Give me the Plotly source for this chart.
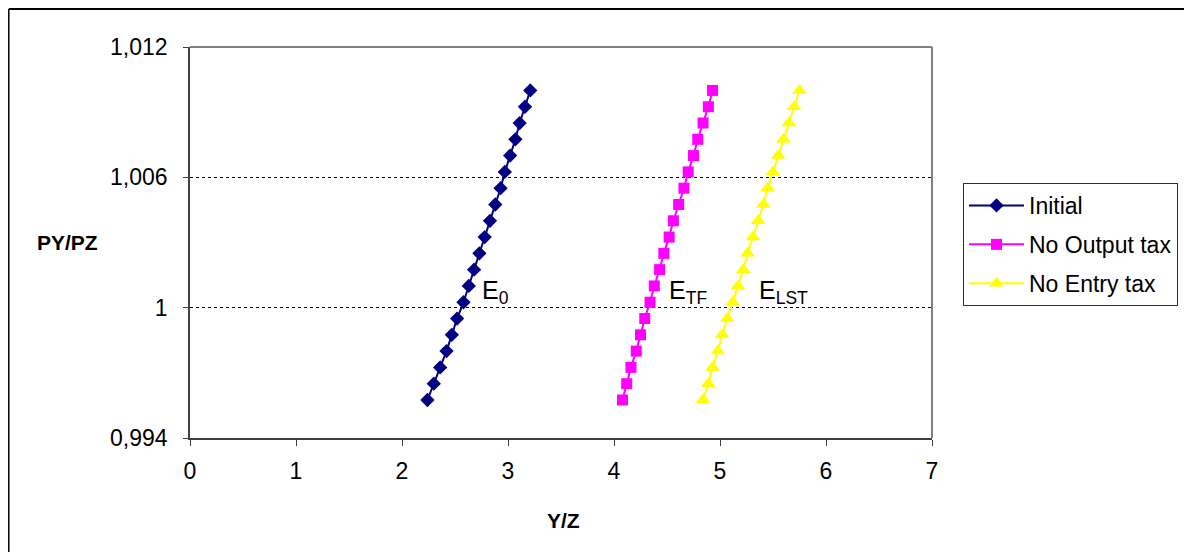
import plotly.graph_objects as go

# ---- data ----
py_pz = [0.99575, 0.9965, 0.99725, 0.998, 0.99875, 0.9995, 1.00025, 1.001, 1.00175, 1.0025,
         1.00325, 1.004, 1.00475, 1.0055, 1.00625, 1.007, 1.00775, 1.0085, 1.00925, 1.01]
initial_yz = [2.24, 2.30, 2.36, 2.42, 2.47, 2.52, 2.58, 2.63, 2.68, 2.73,
              2.78, 2.83, 2.88, 2.93, 2.97, 3.02, 3.07, 3.11, 3.16, 3.21]
no_output_tax_yz = [4.08, 4.12, 4.16, 4.21, 4.25, 4.29, 4.34, 4.38, 4.43, 4.47,
                    4.52, 4.56, 4.61, 4.66, 4.70, 4.75, 4.79, 4.84, 4.89, 4.93]
no_entry_tax_yz = [4.84, 4.89, 4.93, 4.98, 5.02, 5.07, 5.12, 5.17, 5.22, 5.26,
                   5.31, 5.36, 5.41, 5.45, 5.50, 5.55, 5.60, 5.65, 5.70, 5.75]

series_names = ["Initial", "No Output tax", "No Entry tax"]
y_tick_vals = [0.994, 1.0, 1.006, 1.012]
y_tick_text = ["0,994", "1", "1,006", "1,012"]
x_tick_vals = [0, 1, 2, 3, 4, 5, 6, 7]

labels_text = ["E<sub>0</sub>", "E<sub>TF</sub>", "E<sub>LST</sub>"]
labels_x = [2.74, 4.50, 5.35]
labels_y = [1.0007, 1.0007, 1.0007]

FONT = "Liberation Sans, Arial, sans-serif"

fig = go.Figure()
fig.add_trace(go.Scatter(
    x=initial_yz, y=py_pz, mode="lines+markers", name=series_names[0],
    line=dict(color="#000080", width=2),
    marker=dict(symbol="diamond", size=11, color="#000080"),
    legendgroup="a"))
fig.add_trace(go.Scatter(
    x=no_output_tax_yz, y=py_pz, mode="lines+markers", name=series_names[1],
    line=dict(color="#FF00FF", width=2),
    marker=dict(symbol="square", size=11, color="#FF00FF"),
    legendgroup="b"))
fig.add_trace(go.Scatter(
    x=no_entry_tax_yz, y=py_pz, mode="lines+markers", name=series_names[2],
    line=dict(color="#FFFF00", width=2),
    marker=dict(symbol="triangle-up", size=13, color="#FFFF00"),
    legendgroup="c"))

# the page body has an 8px margin on every side, so the figure is offset by 8px
# and sized so that the page does not overflow the window
OFF = 8
W, H = 1192 - 2 * OFF, 560 - 2 * OFF
L, T = 190 - OFF, 47 - OFF
R = (W + OFF) - 932
B = (H + OFF) - 438
pw, ph = W - L - R, H - T - B


def px_x(px):
    return (px - OFF - L) / pw


def px_y(py):
    return (H - B - (py - OFF)) / ph


annotations = []
for t, xv, yv in zip(labels_text, labels_x, labels_y):
    annotations.append(dict(x=xv, y=yv, xref="x", yref="y", text=t, showarrow=False,
                            xanchor="left", yanchor="middle",
                            font=dict(family=FONT, size=25, color="black")))
annotations.append(dict(x=px_x(67), y=px_y(242), xref="paper", yref="paper",
                        text="<b>PY/PZ</b>", showarrow=False,
                        xanchor="center", yanchor="middle",
                        font=dict(family=FONT, size=21, color="black")))
annotations.append(dict(x=px_x(563), y=px_y(520), xref="paper", yref="paper",
                        text="<b>Y/Z</b>", showarrow=False,
                        xanchor="center", yanchor="middle",
                        font=dict(family=FONT, size=21, color="black")))

shapes = [
    # plot area top and right border (grey)
    dict(type="line", xref="paper", yref="paper", x0=0, x1=1, y0=1, y1=1,
         line=dict(color="#808080", width=2)),
    dict(type="line", xref="paper", yref="paper", x0=1, x1=1, y0=0, y1=1,
         line=dict(color="#808080", width=2)),
    # outer chart border (top and left visible), kept inside the drawing area
    dict(type="line", xref="paper", yref="paper", x0=px_x(8.8), x1=px_x(1210),
         y0=px_y(9), y1=px_y(9), line=dict(color="black", width=2)),
    dict(type="line", xref="paper", yref="paper", x0=px_x(8.8), x1=px_x(8.8),
         y0=px_y(9), y1=px_y(580), line=dict(color="black", width=1.5)),
]

fig.update_layout(
    width=W, height=H,
    margin=dict(l=L, r=R, t=T, b=B, autoexpand=False),
    paper_bgcolor="white", plot_bgcolor="white",
    font=dict(family=FONT, size=23, color="black"),
    showlegend=True,
    legend=dict(x=px_x(963), y=px_y(183), xanchor="left", yanchor="top",
                bordercolor="#303030", borderwidth=1, bgcolor="white",
                font=dict(family=FONT, size=23, color="black"),
                traceorder="grouped", tracegroupgap=6, itemwidth=55),
    xaxis=dict(range=[0, 7], tickvals=x_tick_vals, showgrid=False, zeroline=False,
               showline=True, linecolor="#404040", linewidth=2,
               ticks="outside", ticklen=6, tickcolor="#404040", tickwidth=1,
               ticklabelstandoff=5,
               tickfont=dict(family=FONT, size=23, color="black")),
    yaxis=dict(range=[0.994, 1.012], tickvals=y_tick_vals, ticktext=y_tick_text,
               showgrid=True, gridcolor="black", griddash="dot", gridwidth=1,
               zeroline=False, showline=True, linecolor="#404040", linewidth=1.5,
               ticks="outside", ticklen=5, tickcolor="#404040", tickwidth=1,
               ticklabelstandoff=11,
               tickfont=dict(family=FONT, size=23, color="black")),
    annotations=annotations,
    shapes=shapes,
)

fig.write_html("out.html")
